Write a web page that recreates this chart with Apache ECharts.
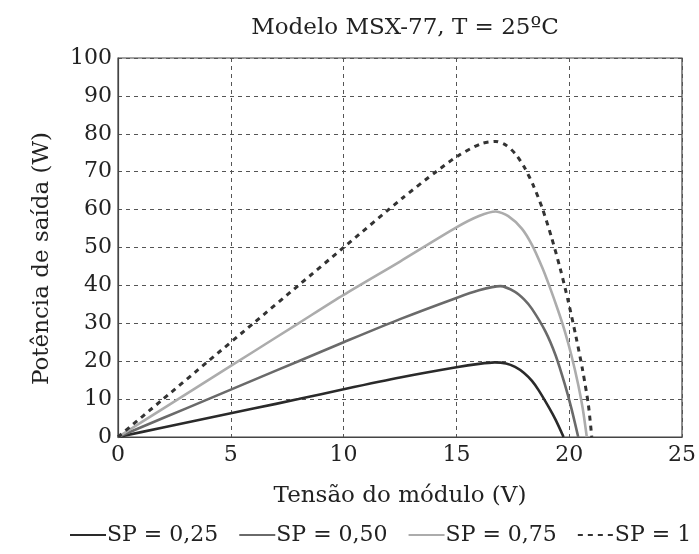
<!DOCTYPE html>
<html><head><meta charset="utf-8">
<script src="https://cdn.jsdelivr.net/npm/echarts@6/dist/echarts.min.js"></script>
<style>html,body{margin:0;padding:0;background:#fff}#c{width:699px;height:554px}</style>
</head><body><div id="c"></div>
<script>
var titleText = 'Modelo MSX-77, T = 25ºC';
var xName = 'Tensão do módulo (V)';
var yName = 'Potência de saída (W)';
var seriesNames = ['SP = 0,25', 'SP = 0,50', 'SP = 0,75', 'SP = 1'];

var v025 = [0, 2, 4, 6, 8, 10, 12.5, 15.0, 16.0, 16.7, 17.2, 17.6, 18.0, 18.35, 18.65, 19.1, 19.4, 19.75];
var p025 = [0, 2.5, 5, 7.5, 10, 12.6, 15.7, 18.4, 19.3, 19.7, 19.4, 18.5, 16.9, 14.8, 12.3, 7.8, 4.5, 0];

var v050 = [0, 2, 4, 6, 8, 10, 12.5, 15.0, 16.0, 16.95, 17.6, 18.0, 18.35, 18.95, 19.4, 19.8, 20.1, 20.4];
var p050 = [0, 5, 10, 15, 20, 25, 31.1, 36.7, 38.7, 39.8, 38.3, 36.3, 33.8, 27.8, 21.5, 14.0, 7.5, 0];

var v075 = [0, 2, 4, 6, 8, 10, 12.5, 15.0, 16.0, 16.75, 17.3, 17.9, 18.35, 18.8, 19.1, 19.5, 19.8, 20.1, 20.4, 20.6, 20.78];
var p075 = [0, 7.5, 15, 22.5, 30, 37.5, 46.3, 55.3, 58.3, 59.5, 58.3, 55.0, 50.7, 44.8, 40.2, 33.5, 28.0, 21.5, 13.8, 7.5, 0];

var v100 = [0, 2, 4, 6, 8, 10, 12.6, 14.1, 15.1, 16.1, 16.75, 17.2, 17.6, 18.0, 18.4, 18.8, 19.2, 19.6, 19.95, 20.3, 20.6, 20.85, 21.0];
var p100 = [0, 10, 20, 30, 40, 50, 63, 70, 74.3, 77.4, 78.0, 77.0, 74.8, 71.3, 66.5, 60.5, 53.0, 44.5, 36.0, 26.5, 17.5, 8.5, 0];

function pairs(xs, ys) { return xs.map(function (x, i) { return [x, ys[i]]; }); }

var font = '"DejaVu Serif", serif';
var txt = '#222';
var chart = echarts.init(document.getElementById('c'));
var colors = ['#2a2a2a', '#6a6a6a', '#acacac', '#333333'];
var dataSets = [pairs(v025, p025), pairs(v050, p050), pairs(v075, p075), pairs(v100, p100)];

chart.setOption({
  animation: false,
  backgroundColor: '#fff',
  title: { text: titleText, left: 400, top: 12, textAlign: 'center',
    textStyle: { fontFamily: font, fontSize: 23, fontWeight: 'normal', color: txt } },
  grid: { left: 118, right: 17, top: 58, bottom: 117, show: true, borderColor: '#444', borderWidth: 1.2 },
  legend: {
    bottom: 3, left: 64, itemWidth: 36, itemHeight: 10, itemGap: 20,
    itemStyle: { opacity: 0 },
    textStyle: { fontFamily: font, fontSize: 22, color: txt, padding: [0, 0, 0, -4] },
    data: seriesNames
  },
  xAxis: {
    type: 'value', min: 0, max: 25, interval: 5,
    name: xName, nameLocation: 'middle', nameGap: 48,
    nameTextStyle: { fontFamily: font, fontSize: 23, color: txt },
    axisLine: { show: true, lineStyle: { color: '#444', width: 1.2 } },
    axisTick: { show: false },
    axisLabel: { fontFamily: font, fontSize: 22, color: txt, margin: 7 },
    splitLine: { show: true, lineStyle: { color: '#555', type: [4, 4], width: 1 } }
  },
  yAxis: {
    type: 'value', min: 0, max: 100, interval: 10,
    name: yName, nameLocation: 'middle', nameGap: 64,
    nameTextStyle: { fontFamily: font, fontSize: 23, color: txt, padding: [0, 22, 0, 0] },
    axisLine: { show: true, lineStyle: { color: '#444', width: 1.2 } },
    axisTick: { show: false },
    axisLabel: { fontFamily: font, fontSize: 22, color: txt, margin: 6 },
    splitLine: { show: true, lineStyle: { color: '#555', type: [4, 4], width: 1 } }
  },
  series: seriesNames.map(function (n, i) {
    return {
      name: n, type: 'line', data: dataSets[i], smooth: 0.25, symbol: 'none',
      lineStyle: { color: colors[i], width: i === 3 ? 3 : 2.6, type: i === 3 ? [5, 5] : 'solid' },
      itemStyle: { color: colors[i] }
    };
  })
});
</script></body></html>
